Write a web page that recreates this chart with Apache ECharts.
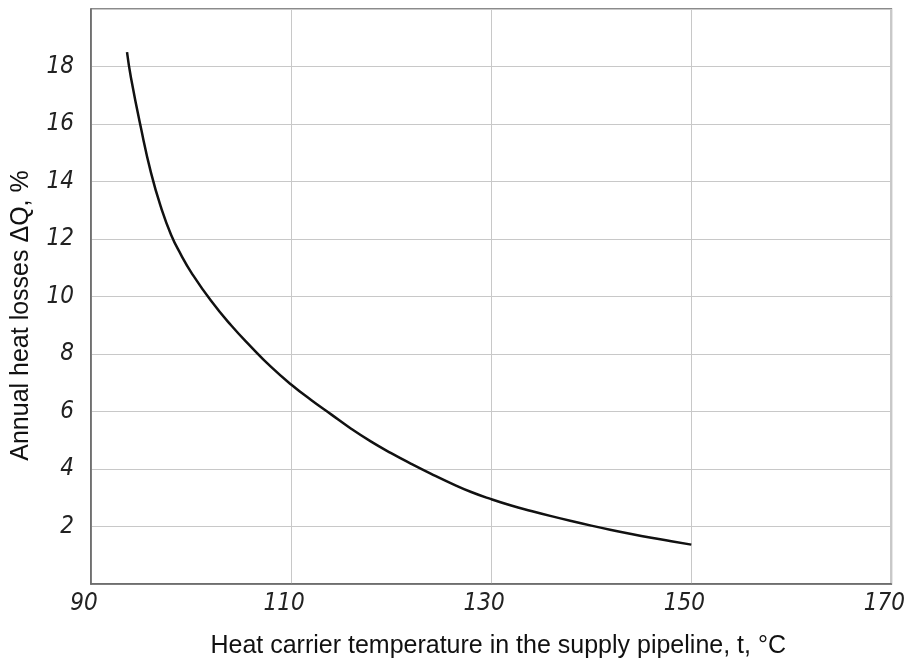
<!DOCTYPE html>
<html>
<head>
<meta charset="utf-8">
<script src="https://cdn.jsdelivr.net/npm/echarts@6/dist/echarts.min.js"></script>
<style>html,body{margin:0;padding:0;background:#fff;overflow:hidden}#c{width:908px;height:664px}</style>
</head>
<body>
<div id="c"></div>
<script>
const temperature = [93.6, 94, 95, 96, 97, 98, 99, 100, 102, 104, 106, 108, 110, 112, 114, 116, 118, 120, 122, 124, 126, 128, 130, 132, 134, 136, 138, 140, 142, 144, 146, 148, 150];
const heatLoss    = [18.5, 17.6, 15.85, 14.3, 13.1, 12.15, 11.45, 10.85, 9.85, 9.0, 8.25, 7.55, 6.94, 6.4, 5.9, 5.4, 4.95, 4.55, 4.18, 3.83, 3.5, 3.2, 2.95, 2.73, 2.54, 2.36, 2.19, 2.03, 1.88, 1.74, 1.61, 1.49, 1.37];
const xTicks = [90, 110, 130, 150, 170];
const yTicks = [2, 4, 6, 8, 10, 12, 14, 16, 18];

const chart = echarts.init(document.getElementById('c'), null, {renderer: 'canvas'});
const tickFont = {fontFamily: '"Liberation Sans Narrow", "DejaVu Sans Condensed", sans-serif', fontStyle: 'italic', fontSize: 24, color: '#222'};
chart.setOption({
  animation: false,
  grid: {left: 91, right: 15, top: 9, bottom: 76, show: true, borderColor: '#666', borderWidth: 1.5, backgroundColor: 'transparent'},
  xAxis: {
    type: 'value', min: 90, max: 170, interval: 20,
    name: 'Heat carrier temperature in the supply pipeline, t, °C',
    nameLocation: 'middle', nameGap: 50,
    nameTextStyle: {fontFamily: '"Liberation Sans", Arial, sans-serif', fontSize: 25, color: '#111', padding: [0, 0, 0, 14]},
    axisLine: {show: true, lineStyle: {color: '#666', width: 1.5}},
    axisTick: {show: false},
    axisLabel: Object.assign({margin: 8, padding: [0, 14, 0, 0], formatter: v => xTicks.includes(v) ? String(v) : ''}, tickFont),
    splitLine: {show: true, lineStyle: {color: '#c8c8c8', width: 1}}
  },
  yAxis: {
    type: 'value', min: 0, max: 20, interval: 2,
    name: 'Annual heat losses ΔQ, %',
    nameLocation: 'middle', nameGap: 57,
    nameTextStyle: {fontFamily: '"Liberation Sans", Arial, sans-serif', fontSize: 25, color: '#111', padding: [0, 38, 0, 0]},
    axisLine: {show: true, lineStyle: {color: '#666', width: 1.5}},
    axisTick: {show: false},
    axisLabel: Object.assign({margin: 17, formatter: v => yTicks.includes(v) ? String(v) : ''}, tickFont),
    splitLine: {show: true, lineStyle: {color: '#c8c8c8', width: 1}}
  },
  series: [{
    type: 'line',
    data: temperature.map((t, i) => [t, heatLoss[i]]),
    smooth: 0.5,
    showSymbol: false,
    lineStyle: {color: '#111', width: 2.5}
  }]
});
</script>
</body>
</html>
